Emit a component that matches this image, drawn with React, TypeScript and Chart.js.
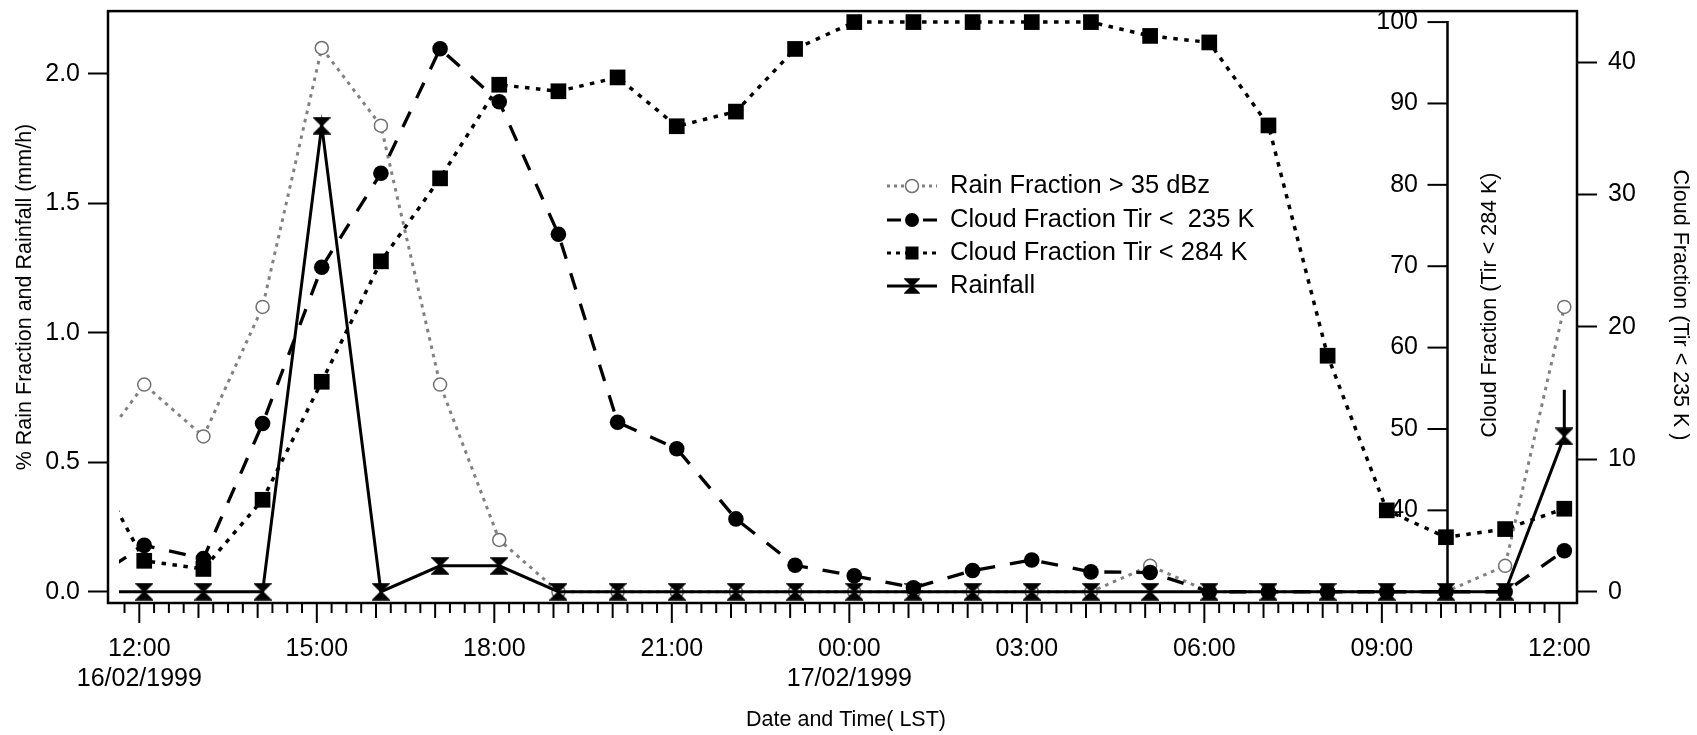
import React, { useEffect, useRef } from "react";
import { Chart, registerables } from "chart.js";

Chart.register(...registerables);

const FONT = '"Liberation Sans", Arial, Helvetica, sans-serif';

// ---------- data ----------
const timeStamps = [
  "16/02/1999 11:05", "16/02/1999 12:05", "16/02/1999 13:05", "16/02/1999 14:05",
  "16/02/1999 15:05", "16/02/1999 16:05", "16/02/1999 17:05", "16/02/1999 18:05",
  "16/02/1999 19:05", "16/02/1999 20:05", "16/02/1999 21:05", "16/02/1999 22:05",
  "16/02/1999 23:05", "17/02/1999 00:05", "17/02/1999 01:05", "17/02/1999 02:05",
  "17/02/1999 03:05", "17/02/1999 04:05", "17/02/1999 05:05", "17/02/1999 06:05",
  "17/02/1999 07:05", "17/02/1999 08:05", "17/02/1999 09:05", "17/02/1999 10:05",
  "17/02/1999 11:05", "17/02/1999 12:05",
];

// % rain fraction > 35 dBz (left axis)
const rainFraction = [
  0.49, 0.8, 0.6, 1.1, 2.1, 1.8, 0.8, 0.2, 0, 0, 0, 0, 0,
  0, 0, 0, 0, 0, 0.1, 0, 0, 0, 0, 0, 0.1, 1.1,
];

// cloud fraction Tir < 235 K (outer right axis)
const cloud235 = [
  0.6, 3.5, 2.5, 12.7, 24.5, 31.6, 41.0, 37.0, 27.0, 12.8, 10.8, 5.5, 2.0,
  1.2, 0.3, 1.6, 2.4, 1.5, 1.45, 0, 0, 0, 0, 0, 0, 3.1,
];

// cloud fraction Tir < 284 K (inner right axis)
const cloud284 = [
  47.4, 33.8, 32.8, 41.3, 55.8, 70.6, 80.8, 92.3, 91.5, 93.2, 87.2, 89.0, 96.7,
  100, 100, 100, 100, 100, 98.3, 97.5, 87.3, 59.0, 40.0, 36.7, 37.7, 40.2,
];

// rainfall mm/h (left axis)
const rainfall = [
  0, 0, 0, 0, 1.8, 0, 0.1, 0.1, 0, 0, 0, 0, 0,
  0, 0, 0, 0, 0, 0, 0, 0, 0, 0, 0, 0, 0.6,
];
// vertical tail drawn above the last rainfall point
const rainfallTail = [0.6, 0.78];

const leftTicks = [0, 0.5, 1.0, 1.5, 2.0];
const cloud235Ticks = [0, 10, 20, 30, 40];
const cloud284Ticks = [40, 50, 60, 70, 80, 90, 100];
const xLabelHours = [12, 15, 18, 21, 24, 27, 30, 33, 36];
const xLabelTexts = [
  ["12:00", "16/02/1999"], ["15:00"], ["18:00"], ["21:00"],
  ["00:00", "17/02/1999"], ["03:00"], ["06:00"], ["09:00"], ["12:00"],
];

const toHours = (s: string) => {
  const [d, t] = s.split(" ");
  const day = parseInt(d.slice(0, 2), 10);
  const [hh, mm] = t.split(":").map(Number);
  return (day - 16) * 24 + hh + mm / 60;
};
const times = timeStamps.map(toHours);

// ---------- styling helpers ----------
const makeHourglass = (w: number, h: number) => {
  const c = document.createElement("canvas");
  c.width = w + 2;
  c.height = h + 2;
  const g = c.getContext("2d")!;
  g.fillStyle = "#000";
  g.strokeStyle = "#000";
  g.lineWidth = 1.5;
  g.lineJoin = "miter";
  g.beginPath();
  g.moveTo(1, 1);
  g.lineTo(w + 1, 1);
  g.lineTo(w / 2 + 1, h / 2 + 1);
  g.lineTo(w + 1, h + 1);
  g.lineTo(1, h + 1);
  g.lineTo(w / 2 + 1, h / 2 + 1);
  g.closePath();
  g.fill();
  g.stroke();
  return c;
};

const GREY = "#808080";
const CLIP = { left: -11, top: 0, right: 0, bottom: 0 };
const DASH_235 = [17, 15];
const DOT_284 = [4.5, 6.5];
const DOT_RAIN = [3.5, 5];

export default function App() {
  const ref = useRef<HTMLCanvasElement | null>(null);

  useEffect(() => {
    if (!ref.current) return;
    const hourglass = makeHourglass(16, 16);
    const legendHourglass = makeHourglass(14, 14);

    const pts = (vals: number[]) => times.map((t, i) => ({ x: t, y: vals[i] }));

    const legendItems = [
      { text: "Rain Fraction > 35 dBz", color: GREY, dash: [3, 4], marker: "open" },
      { text: "Cloud Fraction Tir <  235 K", color: "#000", dash: [14, 22], marker: "circle" },
      { text: "Cloud Fraction Tir < 284 K", color: "#000", dash: [4, 5], marker: "square" },
      { text: "Rainfall", color: "#000", dash: [], marker: "hourglass" },
    ];

    const decor = {
      id: "decor",
      beforeDatasetsDraw(chart: any) {
        const ctx = chart.ctx;
        const s = chart.scales.y284;
        const x0 = 1447.5;
        ctx.save();
        ctx.strokeStyle = "#000";
        ctx.lineWidth = 2.5;
        ctx.beginPath();
        ctx.moveTo(x0, s.getPixelForValue(100) - 1);
        ctx.lineTo(x0, s.getPixelForValue(30));
        ctx.stroke();
        ctx.lineWidth = 2;
        ctx.font = `25px ${FONT}`;
        ctx.fillStyle = "#000";
        ctx.textAlign = "right";
        ctx.textBaseline = "middle";
        for (const v of cloud284Ticks) {
          const y = s.getPixelForValue(v);
          ctx.beginPath();
          ctx.moveTo(x0 - 20, y);
          ctx.lineTo(x0, y);
          ctx.stroke();
          ctx.fillText(String(v), x0 - 29.5, y);
        }
        ctx.restore();
      },
      afterDraw(chart: any) {
        const ctx = chart.ctx;
        const a = chart.chartArea;
        const xs = chart.scales.x;
        ctx.save();
        // frame
        ctx.strokeStyle = "#000";
        ctx.lineWidth = 2.5;
        ctx.strokeRect(a.left, a.top, a.right - a.left, a.bottom - a.top);
        // x tick marks (15 min minor, 1 h medium, 3 h major)
        ctx.lineWidth = 2;
        for (let k = 47; k <= 144; k++) {
          const t = k / 4;
          const px = xs.getPixelForValue(t);
          const len = k % 12 === 0 ? 20 : k % 4 === 0 ? 15 : 10;
          ctx.beginPath();
          ctx.moveTo(px, a.bottom);
          ctx.lineTo(px, a.bottom + len);
          ctx.stroke();
        }
        // axis titles
        ctx.fillStyle = "#000";
        ctx.font = `21.5px ${FONT}`;
        ctx.textAlign = "center";
        ctx.textBaseline = "middle";
        ctx.fillText("Date and Time( LST)", 846, 720);
        ctx.save();
        ctx.translate(25, 297);
        ctx.rotate(-Math.PI / 2);
        ctx.fillText("% Rain Fraction and Rainfall (mm/h)", 0, 0);
        ctx.restore();
        ctx.save();
        ctx.translate(1490, 305);
        ctx.rotate(-Math.PI / 2);
        ctx.fillText("Cloud Fraction (Tir < 284 K)", 0, 0);
        ctx.restore();
        ctx.save();
        ctx.translate(1680, 305);
        ctx.rotate(Math.PI / 2);
        ctx.fillText("Cloud Fraction (Tir < 235 K )", 0, 0);
        ctx.restore();
        // legend
        const rows = [186, 220, 253, 286];
        legendItems.forEach((it, i) => {
          const y = rows[i];
          ctx.save();
          ctx.strokeStyle = it.color;
          ctx.lineWidth = 3;
          ctx.setLineDash(it.dash);
          ctx.beginPath();
          ctx.moveTo(887, y);
          ctx.lineTo(937, y);
          ctx.stroke();
          ctx.setLineDash([]);
          const mx = 912;
          if (it.marker === "open") {
            ctx.beginPath();
            ctx.arc(mx, y, 6.5, 0, Math.PI * 2);
            ctx.fillStyle = "#fff";
            ctx.fill();
            ctx.lineWidth = 1.5;
            ctx.strokeStyle = "#707070";
            ctx.stroke();
          } else if (it.marker === "circle") {
            ctx.beginPath();
            ctx.arc(mx, y, 7, 0, Math.PI * 2);
            ctx.fillStyle = "#000";
            ctx.fill();
          } else if (it.marker === "square") {
            ctx.fillStyle = "#000";
            ctx.fillRect(mx - 6.5, y - 6.5, 13, 13);
          } else {
            ctx.drawImage(legendHourglass, mx - 8, y - 8);
          }
          ctx.restore();
          ctx.fillStyle = "#000";
          ctx.font = `25.5px ${FONT}`;
          ctx.textAlign = "left";
          ctx.textBaseline = "middle";
          ctx.fillText(it.text, 950, y);
        });
        ctx.restore();
      },
    };

    const tickFont = { family: FONT, size: 25 };

    const chart = new Chart(ref.current, {
      type: "line",
      data: {
        datasets: [
          {
            label: "Rainfall",
            data: pts(rainfall),
            yAxisID: "y",
            borderColor: "#000",
            borderWidth: 3,
            pointStyle: hourglass as any,
            pointRadius: 8,
            order: 1,
            clip: CLIP as any,
          },
          {
            label: "Rainfall tail",
            data: rainfallTail.map((v) => ({ x: times[times.length - 1], y: v })),
            yAxisID: "y",
            borderColor: "#000",
            borderWidth: 3,
            pointRadius: 0,
            order: 1,
          },
          {
            label: "Cloud Fraction Tir <  235 K",
            data: pts(cloud235),
            yAxisID: "y235",
            borderColor: "#000",
            borderWidth: 3.3,
            borderDash: DASH_235,
            pointStyle: "circle",
            pointRadius: 7.8,
            pointBackgroundColor: "#000",
            pointBorderWidth: 0,
            order: 2,
            clip: CLIP as any,
          },
          {
            label: "Cloud Fraction Tir < 284 K",
            data: pts(cloud284),
            yAxisID: "y284",
            borderColor: "#000",
            borderWidth: 3.5,
            borderDash: DOT_284,
            pointStyle: "rect",
            pointRadius: 11.1,
            pointBackgroundColor: "#000",
            pointBorderWidth: 0,
            order: 3,
            clip: CLIP as any,
          },
          {
            label: "Rain Fraction > 35 dBz",
            data: pts(rainFraction),
            yAxisID: "y",
            borderColor: GREY,
            borderWidth: 3,
            borderDash: DOT_RAIN,
            pointStyle: "circle",
            pointRadius: 6.5,
            pointBackgroundColor: "#fff",
            pointBorderColor: "#707070",
            pointBorderWidth: 1.5,
            order: 4,
            clip: CLIP as any,
          },
        ],
      },
      options: {
        animation: false,
        responsive: true,
        maintainAspectRatio: false,
        devicePixelRatio: 1,
        layout: { padding: { top: 9, left: 0, right: 0, bottom: 0 } },
        plugins: { legend: { display: false }, tooltip: { enabled: false } },
        scales: {
          x: {
            type: "linear",
            position: "bottom",
            min: 11.471,
            max: 36.298,
            grid: { display: false, drawTicks: false },
            border: { display: false },
            afterBuildTicks: (s: any) => {
              const t = [];
              for (let k = 47; k <= 144; k++) t.push({ value: k / 4 });
              s.ticks = t;
            },
            afterFit: (s: any) => {
              s.height = 132;
              s.paddingLeft = 0;
              s.paddingRight = 0;
            },
            ticks: {
              autoSkip: false,
              maxRotation: 0,
              minRotation: 0,
              padding: 31,
              color: "#000",
              font: tickFont,
              callback: (v: any) => {
                const i = xLabelHours.findIndex((h) => Math.abs(h - Number(v)) < 1e-6);
                return i >= 0 ? xLabelTexts[i] : "";
              },
            },
          },
          y: {
            position: "left",
            min: -0.04349,
            max: 2.2424,
            border: { display: false },
            grid: { drawOnChartArea: false, drawTicks: true, tickLength: 20, tickColor: "#000", tickWidth: 2 },
            afterBuildTicks: (s: any) => {
              s.ticks = leftTicks.map((v) => ({ value: v }));
            },
            afterFit: (s: any) => {
              s.width = 108;
              s.paddingTop = 0;
              s.paddingBottom = 0;
            },
            ticks: {
              padding: 8,
              color: "#000",
              font: tickFont,
              callback: (v: any) => Number(v).toFixed(1),
            },
          },
          y284: {
            position: "right",
            display: false,
            min: 28.616,
            max: 101.35,
            afterFit: (s: any) => {
              s.width = 0;
              s.paddingTop = 0;
              s.paddingBottom = 0;
            },
          },
          y235: {
            position: "right",
            min: -0.8503,
            max: 43.845,
            border: { display: false },
            grid: { drawOnChartArea: false, drawTicks: true, tickLength: 20, tickColor: "#000", tickWidth: 2 },
            afterBuildTicks: (s: any) => {
              s.ticks = cloud235Ticks.map((v) => ({ value: v }));
            },
            afterFit: (s: any) => {
              s.width = 120;
              s.paddingTop = 0;
              s.paddingBottom = 0;
            },
            ticks: {
              padding: 11,
              color: "#000",
              font: tickFont,
              callback: (v: any) => String(v),
            },
          },
        },
      } as any,
      plugins: [decor],
    });

    return () => chart.destroy();
  }, []);

  return (
    <div style={{ position: "fixed", left: 0, top: 0, width: 1697, height: 735, background: "#fff" }}>
      <canvas ref={ref} />
    </div>
  );
}
